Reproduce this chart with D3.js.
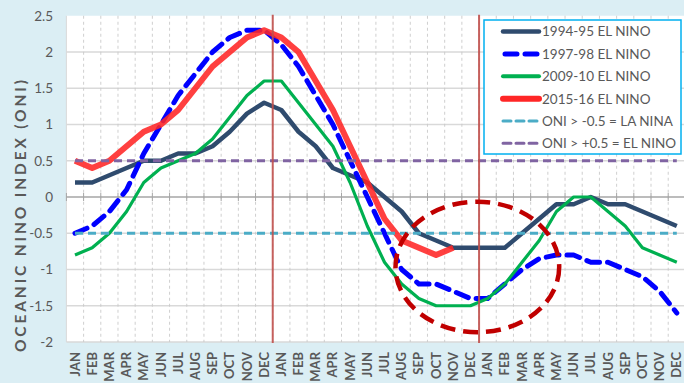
<!DOCTYPE html>
<html><head><meta charset="utf-8">
<script src="https://cdn.jsdelivr.net/npm/d3@7/dist/d3.min.js"></script>
<style>body{margin:0;background:#dbeef4;} svg{display:block;font-family:Lato,"Open Sans",sans-serif;}</style>
</head><body><svg id="chart" width="684" height="383"></svg>
<script>
// ---------- data ----------
const monthNames = ["JAN","FEB","MAR","APR","MAY","JUN","JUL","AUG","SEP","OCT","NOV","DEC"];
const categories = [...monthNames, ...monthNames, ...monthNames];
const yTicks = [-2, -1.5, -1, -0.5, 0, 0.5, 1, 1.5, 2, 2.5];
const yTickLabels = ["-2","-1.5","-1","-0.5","0","0.5","1","1.5","2","2.5"];

const nino9495 = [0.2,0.2,0.3,0.4,0.5,0.5,0.6,0.6,0.7,0.9,1.15,1.3,
                  1.2,0.9,0.7,0.4,0.3,0.2,0.0,-0.2,-0.5,-0.6,-0.7,-0.7,
                  -0.7,-0.7,-0.5,-0.3,-0.1,-0.1,0.0,-0.1,-0.1,-0.2,-0.3,-0.4];
const nino9798 = [-0.5,-0.4,-0.2,0.1,0.6,1.0,1.4,1.7,2.0,2.2,2.3,2.3,
                  2.1,1.8,1.4,1.0,0.5,0.0,-0.5,-1.0,-1.2,-1.2,-1.3,-1.4,
                  -1.4,-1.2,-1.0,-0.85,-0.8,-0.8,-0.9,-0.9,-1.0,-1.1,-1.3,-1.6];
const nino0910 = [-0.8,-0.7,-0.5,-0.2,0.2,0.4,0.5,0.6,0.8,1.1,1.4,1.6,
                  1.6,1.3,1.0,0.7,0.2,-0.4,-0.9,-1.2,-1.4,-1.5,-1.5,-1.5,
                  -1.4,-1.2,-0.9,-0.6,-0.2,0.0,0.0,-0.2,-0.4,-0.7,-0.8,-0.9];
const nino1516 = [0.5,0.4,0.5,0.7,0.9,1.0,1.2,1.5,1.8,2.0,2.2,2.3,
                  2.2,2.0,1.6,1.2,0.7,0.2,-0.3,-0.6,-0.7,-0.8,-0.7];
const laNinaLevel = -0.5;
const elNinoLevel = 0.5;
const seriesNames = ["1994-95 EL NINO","1997-98 EL NINO","2009-10 EL NINO","2015-16 EL NINO","ONI > -0.5 = LA NINA","ONI > +0.5 = EL NINO"];
const yTitle = "OCEANIC NINO INDEX (ONI)";
const yearBreaks = [12, 24];           // category index where a new year starts
const highlight = {center: 23.9, value: -0.965, halfBands: 4.76, halfValue: 0.9};

// ---------- layout ----------
const svg = d3.select("#chart");
const W = 684, H = 383;
const pLeft = 66.4, pRight = 685.4, pTop = 15.75, pBottom = 342;
const x = d3.scaleBand().domain(d3.range(categories.length)).range([pLeft, pRight]).padding(0);
const xc = i => x(i) + x.bandwidth() / 2;
const y = d3.scaleLinear().domain([-2, 2.5]).range([pBottom, pTop]);
const grey = "#595959";

svg.append("rect").attr("width", W).attr("height", H).attr("fill", "#dbeef4");
svg.append("rect").attr("x", pLeft).attr("y", pTop).attr("width", pRight - pLeft).attr("height", pBottom - pTop).attr("fill", "#fff");

// horizontal gridlines
svg.append("g").selectAll("line").data(yTicks.filter(v => v !== 0 && v !== 2.5)).join("line")
  .attr("x1", pLeft).attr("x2", pRight).attr("y1", d => y(d)).attr("y2", d => y(d))
  .attr("stroke", "#d9d9d9").attr("stroke-width", 1.3);
// vertical dashed gridlines
svg.append("g").selectAll("line").data(d3.range(1, categories.length)).join("line")
  .attr("x1", d => x(d)).attr("x2", d => x(d)).attr("y1", pTop).attr("y2", pBottom)
  .attr("stroke", "#c9c9c9").attr("stroke-width", 0.9).attr("stroke-dasharray", "3,3");
svg.append("line").attr("x1", pLeft).attr("x2", pLeft).attr("y1", pTop).attr("y2", pBottom)
  .attr("stroke", "#d9d9d9").attr("stroke-width", 1);

// zero axis with ticks
svg.append("line").attr("x1", pLeft).attr("x2", pRight).attr("y1", y(0)).attr("y2", y(0))
  .attr("stroke", "#a6a6a6").attr("stroke-width", 1.3);
svg.append("g").selectAll("line").data(d3.range(0, categories.length)).join("line")
  .attr("x1", d => x(d)).attr("x2", d => x(d))
  .attr("y1", y(0) - 4).attr("y2", y(0) + 4).attr("stroke", "#a6a6a6").attr("stroke-width", 1);

// y tick labels
svg.append("g").selectAll("text").data(yTicks).join("text")
  .attr("x", 53).attr("y", d => y(d)).attr("dy", "0.36em").attr("text-anchor", "end")
  .attr("font-size", 13.5).attr("fill", grey).text((d, i) => yTickLabels[i]);

// x labels
svg.append("g").selectAll("text").data(categories).join("text")
  .attr("transform", (d, i) => `translate(${xc(i)},352) rotate(-90)`)
  .attr("dy", "0.35em").attr("text-anchor", "end")
  .attr("font-size", 13).attr("font-weight", "bold").attr("fill", grey).text(d => d);

// y title
svg.append("text").attr("transform", "translate(20,216) rotate(-90)")
  .attr("dy", "0.36em").attr("text-anchor", "middle")
  .attr("font-size", 15.5).attr("font-weight", "bold").attr("fill", grey)
  .attr("textLength", 272).attr("lengthAdjust", "spacing").text(yTitle);

// series
const line = d3.line().x((d, i) => xc(i)).y(d => y(d));
const styles = [
  {data: nino9495, color: "#2f4b6e", width: 4.5, dash: null, opacity: 1},
  {data: nino9798, color: "#0000ff", width: 5, dash: "13,8", opacity: 1},
  {data: nino0910, color: "#00b050", width: 3.2, dash: null, opacity: 1},
  {data: nino1516, color: "#ff2626", width: 6, dash: null, opacity: 0.88},
];
const gS = svg.append("g");
styles.forEach(s => {
  gS.append("path").attr("d", line(s.data)).attr("fill", "none")
    .attr("stroke", s.color).attr("stroke-width", s.width).attr("stroke-opacity", s.opacity)
    .attr("stroke-linejoin", "round").attr("stroke-linecap", s.dash ? "round" : "butt")
    .attr("stroke-dasharray", s.dash);
});
// threshold lines
const refStyles = [
  {level: laNinaLevel, color: "#4bacc6"},
  {level: elNinoLevel, color: "#8064a2"},
];
refStyles.forEach(r => {
  gS.append("path").attr("d", line(categories.map(() => r.level))).attr("fill", "none")
    .attr("stroke", r.color).attr("stroke-width", 3).attr("stroke-dasharray", "8,5");
});

// year break lines
svg.append("g").selectAll("line").data(yearBreaks).join("line")
  .attr("x1", d => x(d)).attr("x2", d => x(d)).attr("y1", pTop - 1).attr("y2", pBottom + 1)
  .attr("stroke", "#c0504d").attr("stroke-width", 2).attr("stroke-opacity", 0.9);

// highlight ellipse
const hcx = x(0) + highlight.center * x.bandwidth();
svg.append("ellipse").attr("cx", hcx).attr("cy", y(highlight.value))
  .attr("rx", highlight.halfBands * x.bandwidth())
  .attr("ry", y(highlight.value - highlight.halfValue) - y(highlight.value))
  .attr("fill", "none").attr("stroke", "#c00000").attr("stroke-width", 4.5).attr("stroke-dasharray", "15,8");

// legend
const lg = svg.append("g");
lg.append("rect").attr("x", 484).attr("y", 20).attr("width", 197).attr("height", 134)
  .attr("fill", "#fff").attr("stroke", "#00b0f0").attr("stroke-width", 1.5);
const legendStyles = [
  {color: "#2f4b6e", width: 4.5, dash: null},
  {color: "#0000ff", width: 5, dash: "12,8"},
  {color: "#00b050", width: 4, dash: null},
  {color: "#ff2626", width: 6, dash: null},
  {color: "#4bacc6", width: 3, dash: "8,5"},
  {color: "#8064a2", width: 3, dash: "8,5"},
];
seriesNames.forEach((name, i) => {
  const ly = 31.6 + i * 22.35;
  const st = legendStyles[i];
  lg.append("line").attr("x1", st.width === 5 ? 505 : 503).attr("x2", 539).attr("y1", ly).attr("y2", ly)
    .attr("stroke", st.color).attr("stroke-width", st.width)
    .attr("stroke-linecap", "round").attr("stroke-dasharray", st.dash);
  lg.append("text").attr("x", 542).attr("y", ly).attr("dy", "0.36em")
    .attr("font-size", 13.5).attr("fill", grey).text(name);
});
</script></body></html>
